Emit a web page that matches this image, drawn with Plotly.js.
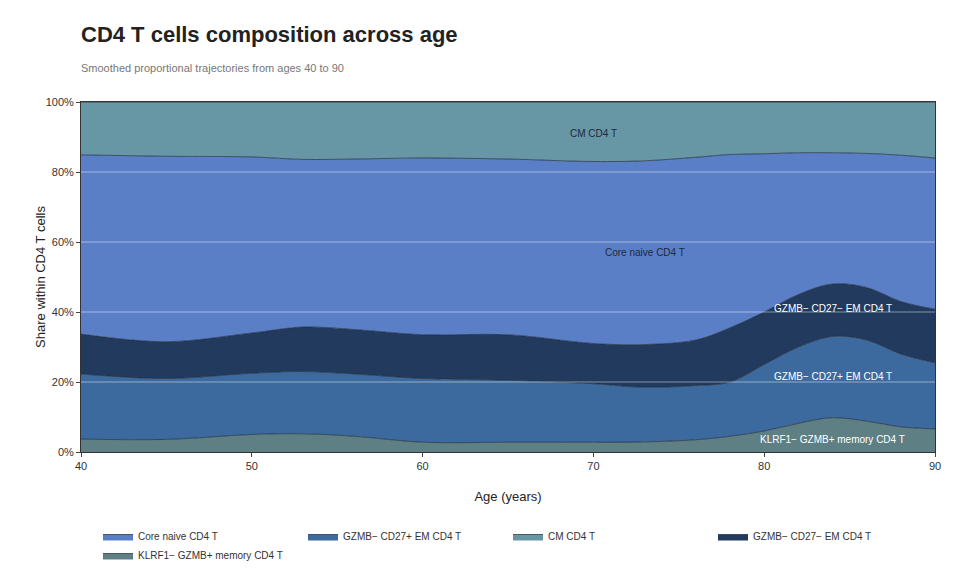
<!DOCTYPE html>
<html><head><script src="https://cdn.plot.ly/plotly-3.0.1.min.js"></script>
<style>body{margin:0}</style></head><body>
<div id="c" style="width:960px;height:583px"></div>
<script>
const ages=[40,45,50,53,56,60,65,70,73,76,78,80,82,84,86,88,90];
const klrf1=[3.7,3.6,5,5.2,4.5,2.8,2.8,2.8,2.9,3.5,4.5,6,8.2,9.8,8.8,7.2,6.6];
const cd27pos=[18.6,17.4,17.5,17.8,17.8,18.2,17.7,16.7,15.6,15.5,15.5,19,21.8,23.2,23.2,20.8,18.9];
const cd27neg=[11.4,10.5,11.5,12.7,12.7,12.5,13,11.5,12.2,13,15.5,15,15,15,15,15,15.3];
const naive=[51.2,53,50.3,47.9,48.7,50.5,50.2,52,52.5,52.2,49.5,45.2,40.5,37.5,38.3,41.8,43.2];
const cm=[15.1,15.5,15.7,16.4,16.3,16,16.3,17,16.8,15.8,15,14.8,14.5,14.5,14.7,15.2,16];
const names=["KLRF1− GZMB+ memory CD4 T","GZMB− CD27+ EM CD4 T","GZMB− CD27− EM CD4 T","Core naive CD4 T","CM CD4 T"];
const cols=["#5e7f84","#3d6a9e","#223a5e","#5a7fc7","#6796a5"];
const series=[klrf1,cd27pos,cd27neg,naive,cm];
const ranks=[1,4,2,5,3];
const traces=series.map((s,i)=>({x:ages,y:s,name:names[i],type:'scatter',mode:'lines',stackgroup:'a',
 line:{shape:'spline',color:'#1c2a3a',width:0.7},fillcolor:cols[i],legendrank:ranks[i],
 hovertemplate:'%{y:.1f}%<extra></extra>'}));
const labels=[[84,3.5,names[0],'#fff'],[84,21.5,names[1],'#fff'],[84,41,names[2],'#fff'],[73,57,names[3],'#1c2a3a'],[70,91,names[4],'#1c2a3a']];
Plotly.newPlot('c',traces,{
 width:960,height:583,paper_bgcolor:'#fff',plot_bgcolor:'#fff',
 font:{family:'Liberation Sans, Arial, sans-serif',size:11,color:'#333'},
 margin:{l:81,r:25,t:102,b:131},
 title:{text:'<b>CD4 T cells composition across age</b>',x:81/960,xanchor:'left',y:0.955,font:{size:22,color:'#222'},
  subtitle:{text:'Smoothed proportional trajectories from ages 40 to 90',font:{size:11,color:'#777'}}},
 xaxis:{range:[40,90],dtick:10,showgrid:false,showline:true,linecolor:'#333',mirror:true,ticks:'outside',ticklen:4,
  title:{text:'Age (years)',font:{size:13,color:'#222'}},zeroline:false},
 yaxis:{range:[0,100],dtick:20,ticksuffix:'%',showgrid:false,showline:true,linecolor:'#333',mirror:true,ticks:'outside',ticklen:4,
  title:{text:'Share within CD4 T cells',font:{size:13,color:'#222'}},zeroline:false},
 shapes:[20,40,60,80].map(v=>({type:'line',xref:'paper',x0:0,x1:1,y0:v,y1:v,layer:'above',line:{color:'rgba(255,255,255,0.45)',width:1}})),
 annotations:labels.map(l=>({x:l[0],y:l[1],text:l[2],showarrow:false,font:{size:10,color:l[3]}})),
 legend:{orientation:'h',x:0.5,xanchor:'center',y:-0.2,yanchor:'top',font:{size:10},entrywidth:160}
},{displayModeBar:false});
</script></body></html>
